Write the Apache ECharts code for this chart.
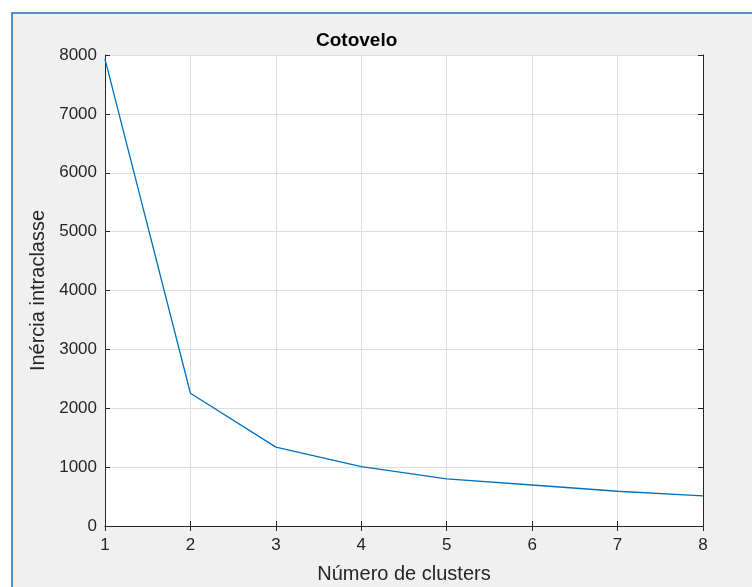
<!DOCTYPE html>
<html>
<head>
<meta charset="utf-8">
<script src="https://cdn.jsdelivr.net/npm/echarts@6/dist/echarts.min.js"></script>
<style>
  html, body {margin:0; padding:0; background:#fff;}
  #chart {width:752px; height:587px;}
</style>
</head>
<body>
<div id="chart"></div>
<script type="text/javascript">
  // numero de clusters / inercia intraclasse
  var clusters = [1, 2, 3, 4, 5, 6, 7, 8];
  var inercia = [7930, 2255, 1340, 1010, 800, 696, 590, 510];
  var yTicks = [0, 1000, 2000, 3000, 4000, 5000, 6000, 7000, 8000];

  var pts = clusters.map(function (c, i) { return [c, inercia[i]]; });
  var txt = '#262626';
  var font = 'Liberation Sans, Arial, sans-serif';

  var chart = echarts.init(document.getElementById('chart'));
  chart.setOption({
    animation: false,
    backgroundColor: '#fff',
    graphic: [{
      type: 'rect', z: -10, silent: true,
      shape: {x: 12, y: 13, width: 760, height: 600},
      style: {fill: '#f0f0f0', stroke: '#5b8bc9', lineWidth: 2}
    }],
    title: {
      text: 'Cotovelo', left: 311, top: 26,
      textStyle: {fontFamily: font, fontSize: 19, fontWeight: 'bold', color: '#000'}
    },
    grid: {left: 105, right: 49, top: 55, bottom: 61, outerBoundsMode: 'none', show: true, backgroundColor: '#fff', borderWidth: 0},
    xAxis: [{
      type: 'value', min: 1, max: 8, interval: 1, position: 'bottom',
      name: 'Número de clusters', nameLocation: 'middle', nameGap: 38,
      nameTextStyle: {fontFamily: font, fontSize: 20, color: txt},
      axisLine: {lineStyle: {color: txt}},
      axisTick: {inside: true, length: 5, lineStyle: {color: txt}},
      axisLabel: {fontFamily: font, fontSize: 17, color: txt, margin: 11},
      splitLine: {lineStyle: {color: '#dedede'}}
    }, {
      type: 'value', min: 1, max: 8, interval: 1, position: 'top',
      axisLine: {lineStyle: {color: txt}},
      axisTick: {inside: true, length: 5, lineStyle: {color: txt}},
      axisLabel: {show: false}, splitLine: {show: false}
    }],
    yAxis: [{
      type: 'value', min: yTicks[0], max: yTicks[yTicks.length - 1], interval: 1000, position: 'left',
      name: 'Inércia intraclasse', nameLocation: 'middle', nameGap: 56, nameRotate: 90,
      nameTextStyle: {fontFamily: font, fontSize: 20, color: txt},
      axisLine: {show: true, lineStyle: {color: txt}},
      axisTick: {show: true, inside: true, length: 5, lineStyle: {color: txt}},
      axisLabel: {fontFamily: font, fontSize: 17, color: txt, margin: 8, formatter: function (v) { return String(v); }},
      splitLine: {lineStyle: {color: '#dedede'}}
    }, {
      type: 'value', min: yTicks[0], max: yTicks[yTicks.length - 1], interval: 1000, position: 'right',
      axisLine: {show: true, lineStyle: {color: txt}},
      axisTick: {show: true, inside: true, length: 5, lineStyle: {color: txt}},
      axisLabel: {show: false}, splitLine: {show: false}
    }],
    series: [{
      type: 'line', data: pts, xAxisIndex: 0, yAxisIndex: 0,
      showSymbol: false, lineStyle: {color: '#0072bd', width: 1.3}
    }]
  });
</script>
</body>
</html>
